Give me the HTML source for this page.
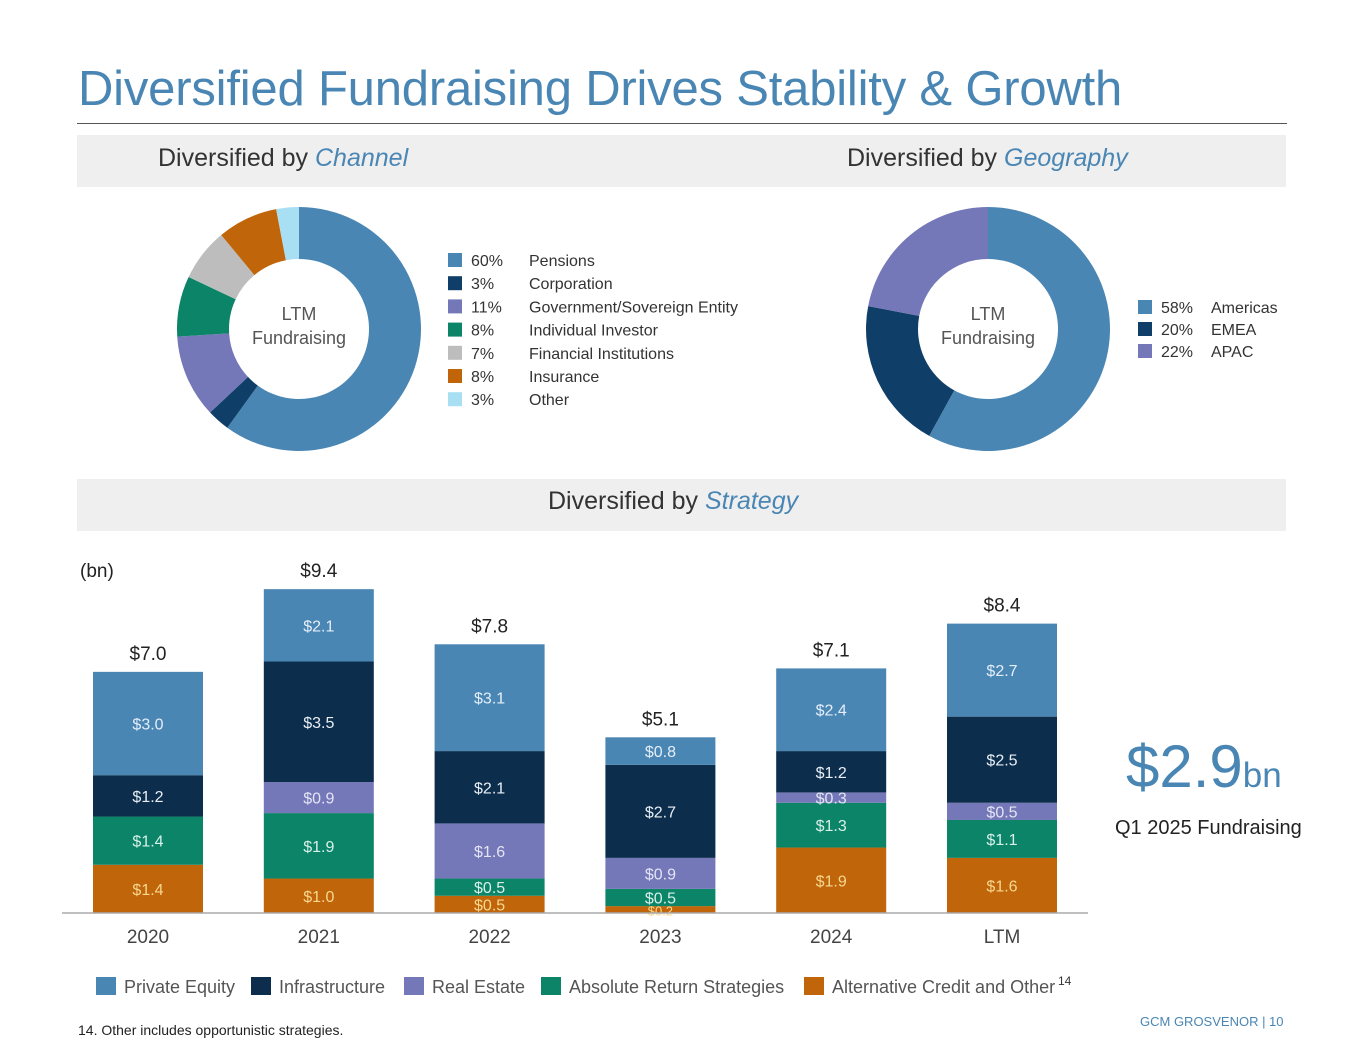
<!DOCTYPE html>
<html><head><meta charset="utf-8"><style>
body{margin:0;width:1365px;height:1055px;background:#fff;font-family:"Liberation Sans",sans-serif;position:relative;overflow:hidden}
.abs{position:absolute}
.band{position:absolute;background:#efefef;left:77px;width:1209px}
</style></head><body>
<div class="abs" style="left:78px;top:61px;font-size:49px;letter-spacing:-0.2px;color:#4a86b4">Diversified Fundraising Drives Stability &amp; Growth</div>
<div class="abs" style="left:77px;top:123px;width:1210px;height:1px;background:#555"></div>
<div class="band" style="top:135px;height:52px"></div>
<div class="abs" style="left:158px;top:144px;font-size:25px;color:#333">Diversified by <i style="color:#4a86b4">Channel</i></div>
<div class="abs" style="left:847px;top:144px;font-size:25px;color:#333">Diversified by <i style="color:#4a86b4">Geography</i></div>
<div class="band" style="top:479px;height:52px"></div>
<div class="abs" style="left:548px;top:487px;font-size:25px;color:#333">Diversified by <i style="color:#4a86b4">Strategy</i></div>
<svg class="abs" style="left:0;top:0" width="1365" height="1055" id="svg" font-family="Liberation Sans, sans-serif"></svg>
<div class="abs" style="left:1126px;top:732px;font-size:60px;color:#4a86b4">$2.9<span style="font-size:35px">bn</span></div>
<div class="abs" style="left:1115px;top:817px;font-size:20px;color:#222">Q1 2025 Fundraising</div>
<div class="abs" style="left:78px;top:1022px;font-size:14px;color:#222">14. Other includes opportunistic strategies.</div>
<div class="abs" style="left:1140px;top:1014px;font-size:13px;color:#4a86b4">GCM GROSVENOR | 10</div>
<script>
const channelLabels=["Pensions","Corporation","Government/Sovereign Entity","Individual Investor","Financial Institutions","Insurance","Other"];
const channelValues=[60,3,11,8,7,8,3];
const channelColors=["#4a86b4","#0f3f68","#7478b8","#0b8468","#bdbdbd","#c0650a","#a8dff2"];
const geoLabels=["Americas","EMEA","APAC"];
const geoValues=[58,20,22];
const geoColors=["#4a86b4","#0f3f68","#7478b8"];
const years=["2020","2021","2022","2023","2024","LTM"];
const altCredit=[1.4,1.0,0.5,0.2,1.9,1.6];
const absReturn=[1.4,1.9,0.5,0.5,1.3,1.1];
const realEstate=[0,0.9,1.6,0.9,0.3,0.5];
const infra=[1.2,3.5,2.1,2.7,1.2,2.5];
const privEq=[3.0,2.1,3.1,0.8,2.4,2.7];
const totals=[7.0,9.4,7.8,5.1,7.1,8.4];
const seriesNames=["Private Equity","Infrastructure","Real Estate","Absolute Return Strategies","Alternative Credit and Other"];
const seriesColors=["#4a86b4","#0c2d4c","#7478b8","#0b8468","#c0650a"];
const NS="http://www.w3.org/2000/svg";
const svg=document.getElementById('svg');
function el(t,a,p){const e=document.createElementNS(NS,t);for(const k in a)e.setAttribute(k,a[k]);(p||svg).appendChild(e);return e;}
function txt(x,y,s,a){const e=el('text',Object.assign({x:x,y:y},a));e.textContent=s;return e;}
function donut(cx,cy,vals,cols,name){
  const R=122,r=70,tot=vals.reduce((a,b)=>a+b,0);let a0=0;
  vals.forEach((v,i)=>{const a1=a0+v/tot*2*Math.PI;
    const p=(a,rr)=>[cx+rr*Math.sin(a),cy-rr*Math.cos(a)];const lg=(a1-a0)>Math.PI?1:0;
    const [x1,y1]=p(a0,R),[x2,y2]=p(a1,R),[x3,y3]=p(a1,r),[x4,y4]=p(a0,r);
    const s=el('path',{d:`M${x1} ${y1}A${R} ${R} 0 ${lg} 1 ${x2} ${y2}L${x3} ${y3}A${r} ${r} 0 ${lg} 0 ${x4} ${y4}Z`,fill:cols[i]});
    
    
    a0=a1;});
  const t1=txt(cx,cy-9,"LTM",{'text-anchor':'middle','font-size':18,fill:'#555'});
  
  
  txt(cx,cy+15,"Fundraising",{'text-anchor':'middle','font-size':18,fill:'#555'});
}
function legend(x,y,step,labels,vals,cols,name,off){
  labels.forEach((l,i)=>{const yy=y+i*step;
    const r=el('rect',{x:x,y:yy-7,width:14,height:14,fill:cols[i]});
    
    
    txt(x+23,yy+6,vals[i]+"%",{'font-size':16,fill:'#333'});
    const t=txt(x+off,yy+6,l,{'font-size':16,fill:'#333'});
    
    });
}
donut(299,329,channelValues,channelColors,'channel-donut');
legend(448,260,23.2,channelLabels,channelValues,channelColors,'channel',81);
donut(988,329,geoValues,geoColors,'geo-donut');
legend(1138,307,22,geoLabels,geoValues,geoColors,'geo',73);
const base=913,scale=34.45,x0=148,dx=170.8,bw=110;
const yv=v=>base-v*scale;
const stack=[altCredit,absReturn,realEstate,infra,privEq];
const stackCols=["#c0650a","#0b8468","#7478b8","#0c2d4c","#4a86b4"];
const labCols=["#f7d890","#d8f0ea","#e4e4f4","#e8eef4","#e4eef8"];
years.forEach((y,i)=>{let cum=0;const cx=x0+i*dx;
  stack.forEach((s,k)=>{const v=s[i];if(v<=0)return;
    const r=el('rect',{x:cx-bw/2,y:yv(cum+v),width:bw,height:v*scale,fill:stackCols[k]});
    
    
    const fs=v<0.3?13:16;
    txt(cx,yv(cum+v/2)+6,"$"+v.toFixed(1),{'text-anchor':'middle','font-size':fs,fill:labCols[k]});
    cum+=v;});
  const t=txt(cx,yv(totals[i])-12,"$"+totals[i].toFixed(1),{'text-anchor':'middle','font-size':19,fill:'#222'});
  
  
  const xl=txt(cx,943,y,{'text-anchor':'middle','font-size':19,fill:'#444'});
  
  
});
const ax=el('line',{x1:62,x2:1088,y1:base,y2:base,stroke:'#aaa','stroke-width':1.5});


txt(80,577,"(bn)",{'font-size':19,fill:'#222'});
const lxs=[96,251,404,541,804];
seriesNames.forEach((n,i)=>{
  const r=el('rect',{x:lxs[i],y:977,width:20,height:18,fill:seriesColors[i]});
  
  
  const t=txt(lxs[i]+28,993,n,{'font-size':18,fill:'#555'});
  
  
});
txt(1058,985,"14",{'font-size':12,fill:'#333'});
</script>
</body></html>
